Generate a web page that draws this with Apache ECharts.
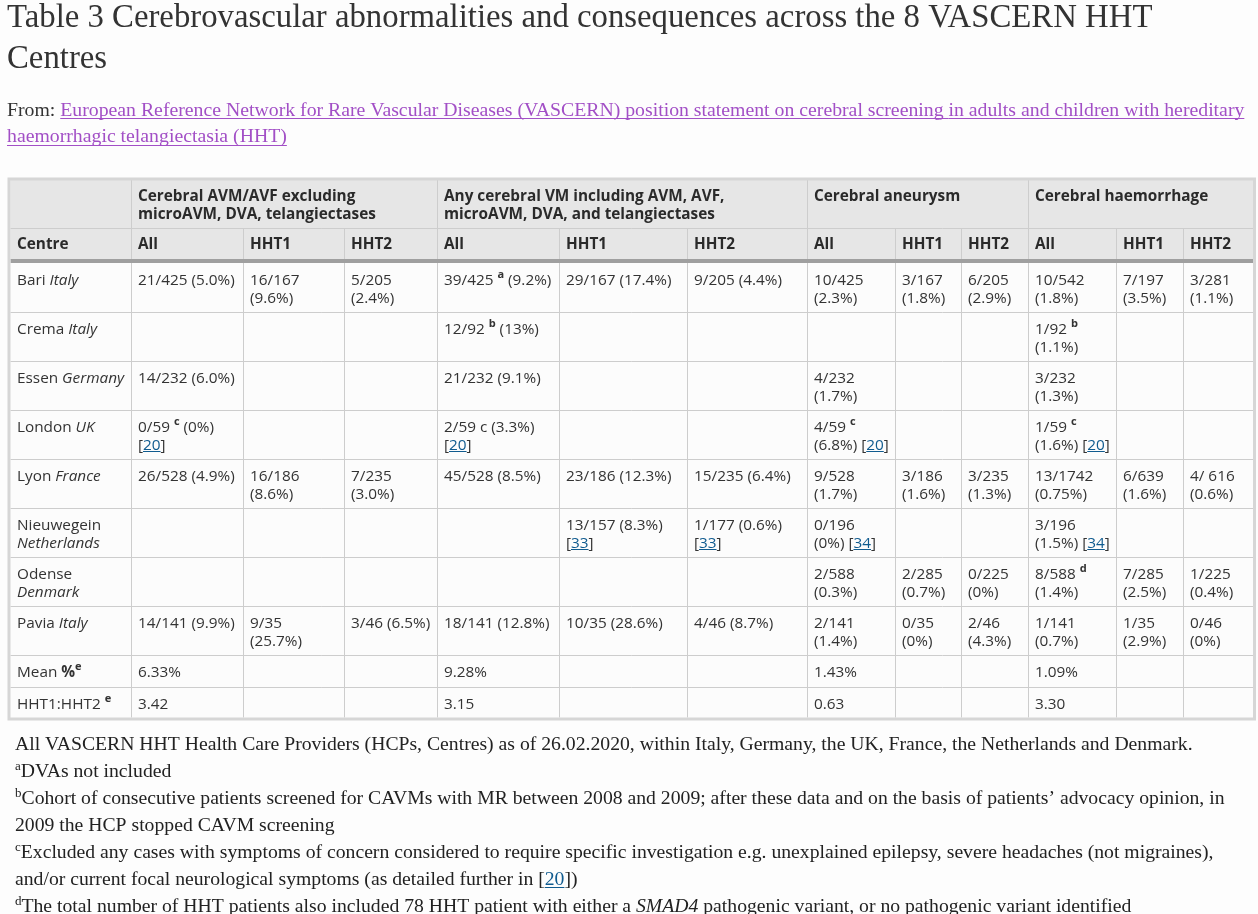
<!DOCTYPE html>
<html>
<head>
<meta charset="utf-8">
<script src="https://cdn.jsdelivr.net/npm/echarts@6/dist/echarts.min.js"></script>
<style>
html,body{margin:0;padding:0;background:#fdfdfd;}
#chart{width:1258px;height:914px;}
</style>
</head>
<body>
<div id="chart"></div>
<script>
// ---------------- DATA ----------------
const titleLines = ['Table 3 Cerebrovascular abnormalities and consequences across the 8 VASCERN HHT', 'Centres'];
const sourcePrefix = 'From: ';
const sourceLinkLines = ['European Reference Network for Rare Vascular Diseases (VASCERN) position statement on cerebral screening in adults and children with hereditary', 'haemorrhagic telangiectasia (HHT)'];
const groupHeaders = ['Cerebral AVM/AVF excluding\nmicroAVM, DVA, telangiectases', 'Any cerebral VM including AVM, AVF,\nmicroAVM, DVA, and telangiectases', 'Cerebral aneurysm', 'Cerebral haemorrhage'];
const stubHeader = 'Centre';
const subgroups = ['All', 'HHT1', 'HHT2'];
const centres = ['Bari *Italy*', 'Crema *Italy*', 'Essen *Germany*', 'London *UK*', 'Lyon *France*', 'Nieuwegein\n*Netherlands*', 'Odense\n*Denmark*', 'Pavia *Italy*'];
const avmAll  = ['21/425 (5.0%)', '', '14/232 (6.0%)', '0/59 ^c^ (0%)\n[[20]]', '26/528 (4.9%)', '', '', '14/141 (9.9%)'];
const avmHHT1 = ['16/167\n(9.6%)', '', '', '', '16/186\n(8.6%)', '', '', '9/35\n(25.7%)'];
const avmHHT2 = ['5/205\n(2.4%)', '', '', '', '7/235\n(3.0%)', '', '', '3/46 (6.5%)'];
const vmAll   = ['39/425 ^a^ (9.2%)', '12/92 ^b^ (13%)', '21/232 (9.1%)', '2/59 c (3.3%)\n[[20]]', '45/528 (8.5%)', '', '', '18/141 (12.8%)'];
const vmHHT1  = ['29/167 (17.4%)', '', '', '', '23/186 (12.3%)', '13/157 (8.3%)\n[[33]]', '', '10/35 (28.6%)'];
const vmHHT2  = ['9/205 (4.4%)', '', '', '', '15/235 (6.4%)', '1/177 (0.6%)\n[[33]]', '', '4/46 (8.7%)'];
const anAll   = ['10/425\n(2.3%)', '', '4/232\n(1.7%)', '4/59 ^c^\n(6.8%) [[20]]', '9/528\n(1.7%)', '0/196\n(0%) [[34]]', '2/588\n(0.3%)', '2/141\n(1.4%)'];
const anHHT1  = ['3/167\n(1.8%)', '', '', '', '3/186\n(1.6%)', '', '2/285\n(0.7%)', '0/35\n(0%)'];
const anHHT2  = ['6/205\n(2.9%)', '', '', '', '3/235\n(1.3%)', '', '0/225\n(0%)', '2/46\n(4.3%)'];
const hemAll  = ['10/542\n(1.8%)', '1/92 ^b^\n(1.1%)', '3/232\n(1.3%)', '1/59 ^c^\n(1.6%) [[20]]', '13/1742\n(0.75%)', '3/196\n(1.5%) [[34]]', '8/588 ^d^\n(1.4%)', '1/141\n(0.7%)'];
const hemHHT1 = ['7/197\n(3.5%)', '', '', '', '6/639\n(1.6%)', '', '7/285\n(2.5%)', '1/35\n(2.9%)'];
const hemHHT2 = ['3/281\n(1.1%)', '', '', '', '4/ 616\n(0.6%)', '', '1/225\n(0.4%)', '0/46\n(0%)'];
const summaryLabels = ['Mean **%**^e^', 'HHT1:HHT2 ^e^'];
const meanAll = ['6.33%', '9.28%', '1.43%', '1.09%'];
const ratioAll = ['3.42', '3.15', '0.63', '3.30'];
const footnotes = [
  'All VASCERN HHT Health Care Providers (HCPs, Centres) as of 26.02.2020, within Italy, Germany, the UK, France, the Netherlands and Denmark.',
  '^a^DVAs not included',
  '^b^Cohort of consecutive patients screened for CAVMs with MR between 2008 and 2009; after these data and on the basis of patients\u2019 advocacy opinion, in',
  '2009 the HCP stopped CAVM screening',
  '^c^Excluded any cases with symptoms of concern considered to require specific investigation e.g. unexplained epilepsy, severe headaches (not migraines),',
  'and/or current focal neurological symptoms (as detailed further in [[20]])',
  '^d^The total number of HHT patients also included 78 HHT patient with either a *SMAD4* pathogenic variant, or no pathogenic variant identified'
];

// ---------------- LAYOUT / STYLE ----------------
const SERIF = '"Liberation Serif", "DejaVu Serif", serif';
const SANS = '"Open Sans", "Noto Sans", sans-serif';
const TEXT = '#333333';
const PURPLE = '#a24fc6';
const BLUE = '#105b8f';
const colEdges = [10.5, 131.5, 243.5, 344.5, 437.5, 559.5, 687.5, 807.5, 895.5, 961.5, 1028.5, 1116.5, 1183.5, 1253];
const rowTops = [180, 228, 263, 312, 361, 410, 459, 508, 557, 606, 655, 687];
const tableBottom = 717.5;
const LINE = 18;

const cv = document.createElement('canvas').getContext('2d');
function measure(text, font) { cv.font = font; return cv.measureText(text).width; }
const offCache = {};
function baseOff(font, size) {
  if (offCache[font] != null) return offCache[font];
  cv.font = font;
  cv.textBaseline = 'alphabetic';
  const a = cv.measureText('Hg').fontBoundingBoxAscent;
  cv.textBaseline = 'middle';
  const m = cv.measureText('Hg').fontBoundingBoxAscent;
  cv.textBaseline = 'alphabetic';
  let off = a - m;
  if (!isFinite(off)) off = size * 0.36;
  offCache[font] = off;
  return off;
}
function fit(text, family, weight, target) {
  const w = measure(text, `normal ${weight} 100px ${family}`);
  return 100 * target / w;
}

function parse(str) {
  return str.split('\n').map(line => {
    const segs = [];
    const re = /\*\*([^*]+)\*\*|\*([^*]+)\*|\^([^^]+)\^|\[\[([^\]]+)\]\]/g;
    let last = 0, m;
    while ((m = re.exec(line))) {
      if (m.index > last) segs.push({t: line.slice(last, m.index)});
      if (m[1]) segs.push({t: m[1], bold: true});
      else if (m[2]) segs.push({t: m[2], italic: true});
      else if (m[3]) segs.push({t: m[3], sup: true});
      else if (m[4]) { segs.push({t: '['}); segs.push({t: m[4], link: true}); segs.push({t: ']'}); }
      last = re.lastIndex;
    }
    if (last < line.length) segs.push({t: line.slice(last)});
    return segs;
  });
}

function runLine(segs, x, base, o) {
  const els = [];
  for (const s of segs) {
    const size = s.sup ? o.size * o.supScale : o.size;
    const weight = (s.bold || o.bold || (s.sup && o.supBold)) ? 'bold' : 'normal';
    const style = s.italic ? 'italic' : 'normal';
    const font = `${style} ${weight} ${size.toFixed(2)}px ${o.family}`;
    const w = measure(s.t, font);
    const b = s.sup ? base - o.size * o.supRaise : base;
    const off = baseOff(font, size);
    els.push({
      type: 'text', x: x, y: b - off, silent: true, z2: 5,
      style: {text: s.t, font: font, fill: s.link ? o.linkColor : o.color,
              align: 'left', verticalAlign: 'middle', textAlign: 'left', textVerticalAlign: 'middle'}
    });
    if (s.link) {
      const uy = Math.round(b + o.ulOffset) + 0.5;
      els.push({type: 'line', silent: true, shape: {x1: x, y1: uy, x2: x + w, y2: uy},
                style: {stroke: o.linkColor, lineWidth: 1}});
    }
    x += w;
  }
  return els;
}

// font sizes fitted to the reference text widths
const titleSize = fit(titleLines[0], SERIF, 'normal', 1146);
const sourceSize = fit(sourcePrefix + sourceLinkLines[0], SERIF, 'normal', 1238);
const noteSize = fit(footnotes[0], SERIF, 'normal', 1178);
let tableSize = 0.5 * (fit('29/167 (17.4%)', SANS, 'normal', 105.7) + fit('Cerebral AVM/AVF excluding', SANS, 'bold', 217));
tableSize = Math.max(13, Math.min(15.5, tableSize));

const cellOpts = {size: tableSize, family: SANS, color: TEXT, linkColor: BLUE, supScale: 0.72, supRaise: 0.42, supBold: true, ulOffset: 1.6};
const headOpts = Object.assign({}, cellOpts, {bold: true, color: '#2a2a2a'});

// ---------------- CELLS ----------------
const dataCols = [avmAll, avmHHT1, avmHHT2, vmAll, vmHHT1, vmHHT2, anAll, anHHT1, anHHT2, hemAll, hemHHT1, hemHHT2];
const cells = [];
function addCell(row, col, text, opts, baseAdd) {
  if (!text) return;
  cells.push({row, col, text, opts, x: colEdges[col] + (col === 0 ? 6.5 : 6.5), base: rowTops[row] + baseAdd});
}
groupHeaders.forEach((g, i) => addCell(0, 1 + i * 3, g, headOpts, 21));
addCell(1, 0, stubHeader, headOpts, 21);
groupHeaders.forEach((g, i) => subgroups.forEach((s, j) => addCell(1, 1 + i * 3 + j, s, headOpts, 21)));
centres.forEach((c, r) => {
  addCell(2 + r, 0, c, cellOpts, 21.7);
  dataCols.forEach((col, ci) => addCell(2 + r, 1 + ci, col[r], cellOpts, 21.7));
});
addCell(10, 0, summaryLabels[0], cellOpts, 21.7);
meanAll.forEach((v, i) => addCell(10, 1 + i * 3, v, cellOpts, 21.7));
addCell(11, 0, summaryLabels[1], cellOpts, 21.7);
ratioAll.forEach((v, i) => addCell(11, 1 + i * 3, v, cellOpts, 21.7));

// ---------------- GRAPHIC (grid, title, notes) ----------------
const g = [];
const L = colEdges[0], R = colEdges[colEdges.length - 1];
g.push({type: 'rect', z: 0, silent: true, shape: {x: L, y: 180, width: R - L, height: tableBottom - 180}, style: {fill: '#fcfcfc'}});
g.push({type: 'rect', z: 0, silent: true, shape: {x: L, y: 180, width: R - L, height: 80}, style: {fill: '#e6e6e6'}});
function hline(y, x1, x2, c) { g.push({type: 'line', z: 1, silent: true, shape: {x1, y1: y, x2, y2: y}, style: {stroke: c || '#cdcdcd', lineWidth: 1}}); }
function vline(x, y1, y2, c) { g.push({type: 'line', z: 1, silent: true, shape: {x1: x, y1, x2: x, y2}, style: {stroke: c || '#cdcdcd', lineWidth: 1}}); }
hline(228.5, L, R);
for (let r = 3; r < rowTops.length; r++) hline(rowTops[r] + 0.5, L, R);
[1, 4, 7, 10].forEach(c => vline(colEdges[c], 180, 228.5));
for (let c = 1; c < colEdges.length - 1; c++) vline(colEdges[c], 228.5, tableBottom);
g.push({type: 'rect', z: 2, silent: true, shape: {x: L, y: 259, width: R - L, height: 4}, style: {fill: '#9f9f9f'}});
g.push({type: 'rect', z: 3, silent: true, shape: {x: 9, y: 179, width: 1245.5, height: 540}, style: {fill: null, stroke: '#d6d6d6', lineWidth: 3}});

const titleOpts = {size: titleSize, family: SERIF, color: '#333333', linkColor: PURPLE, supScale: 0.65, supRaise: 0.33, ulOffset: 2.5};
titleLines.forEach((t, i) => runLine([{t}], 7, [26.7, 68.3][i], titleOpts).forEach(e => { e.z = 4; g.push(e); }));
const srcOpts = {size: sourceSize, family: SERIF, color: '#333333', linkColor: PURPLE, supScale: 0.65, supRaise: 0.33, ulOffset: 2.4};
runLine([{t: sourcePrefix}, {t: sourceLinkLines[0], link: true}], 7, 116, srcOpts).forEach(e => { e.z = 4; g.push(e); });
runLine([{t: sourceLinkLines[1], link: true}], 7, 142.3, srcOpts).forEach(e => { e.z = 4; g.push(e); });
const noteOpts = {size: noteSize, family: SERIF, color: '#222222', linkColor: BLUE, supScale: 0.66, supRaise: 0.34, ulOffset: 2.4};
footnotes.forEach((f, i) => runLine(parse(f)[0], 15, 750 + i * 27, noteOpts).forEach(e => { e.z = 4; g.push(e); }));

// ---------------- CHART ----------------
const chart = echarts.init(document.getElementById('chart'), null, {renderer: 'canvas', width: 1258, height: 914});
chart.setOption({
  backgroundColor: '#fdfdfd',
  animation: false,
  graphic: {elements: g},
  series: [{
    type: 'custom',
    coordinateSystem: 'none',
    z: 10,
    silent: true,
    data: cells.map(c => [c.col, c.row]),
    renderItem: function (params) {
      const c = cells[params.dataIndex];
      const children = [];
      parse(c.text).forEach((segs, li) => children.push(...runLine(segs, c.x, c.base + li * LINE, c.opts)));
      return {type: 'group', children};
    }
  }]
});
</script>
</body>
</html>
